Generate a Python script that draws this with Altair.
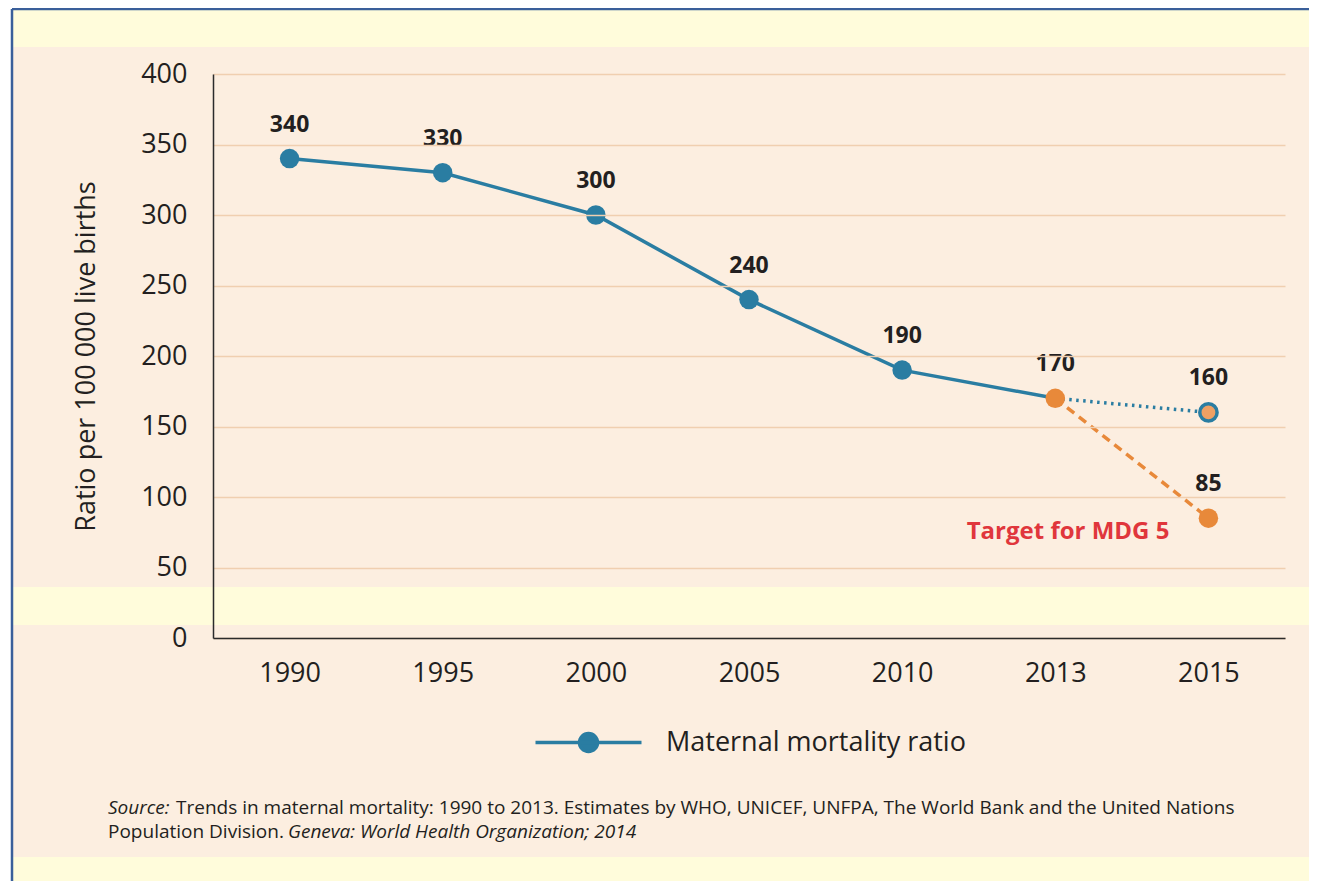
import altair as alt
import pandas as pd

# ---------------- data ----------------
years = ["1990", "1995", "2000", "2005", "2010", "2013", "2015"]
mmr = [340, 330, 300, 240, 190, 170, 160]
target_years = ["2013", "2015"]
target_values = [170, 85]
y_ticks = [0, 50, 100, 150, 200, 250, 300, 350, 400]
series_name = "Maternal mortality ratio"
target_label = "Target for MDG 5"
target_label_pos = ["2015", 75]
y_title = "Ratio per 100 000 live births"
src_l1_a = "Source:"
src_l1_b = "Trends in maternal mortality: 1990 to 2013. Estimates by WHO, UNICEF, UNFPA, The World Bank and the United Nations"
src_l2_a = "Population Division."
src_l2_b = "Geneva: World Health Organization; 2014"

# ---------------- styles ----------------
TEAL = "#2A7DA2"
ORANGE = "#E8893A"
ORANGE_LIGHT = "#EEA064"
RED = "#E0363C"
TXT = "#231F20"
YELLOW = "#FFFCDB"
PEACH = "#FCEEE0"
GRID = "#F0CFB0"
BORDER = "#3A5F9A"
FONT = "Open Sans"

W, H = 1072, 564

df_obs = pd.DataFrame({"year": years[:6], "value": mmr[:6], "series": series_name})
df_proj = pd.DataFrame({"year": years[5:], "value": mmr[5:]})
df_target = pd.DataFrame({"year": target_years, "value": target_values})
df_teal_pts = pd.DataFrame({"year": years[:5], "value": mmr[:5], "series": series_name})
df_ring = pd.DataFrame({"year": years[6:], "value": mmr[6:]})
df_labels = pd.DataFrame({"year": years + target_years[1:], "value": mmr + target_values[1:]})
df_tgt_txt = pd.DataFrame({"year": [target_label_pos[0]], "value": [target_label_pos[1]], "t": [target_label]})
one = pd.DataFrame({"a": [0]})

x_enc = alt.X(
    "year:O",
    scale=alt.Scale(domain=years),
    axis=alt.Axis(
        title=None, labelAngle=0, ticks=False, grid=False, zindex=1,
        domainColor="#2b2b2b", domainWidth=1.5,
        labelFont=FONT, labelFontSize=27, labelColor=TXT, labelPadding=22,
    ),
)
y_enc = alt.Y(
    "value:Q",
    scale=alt.Scale(domain=[0, 400], nice=False, zero=True),
    axis=alt.Axis(
        values=y_ticks, title=y_title, ticks=False, zindex=1,
        grid=True, gridColor=GRID, gridWidth=1.5,
        domainColor="#2b2b2b", domainWidth=1.5,
        labelFont=FONT, labelFontSize=27, labelColor=TXT, labelPadding=26,
        titleFont=FONT, titleFontSize=27, titleFontWeight="normal", titleColor=TXT,
        titlePadding=40,
    ),
)

# ---------------- background decoration ----------------
def band(x1, x2, y1, y2, color):
    return alt.Chart(one).mark_rect(color=color).encode(
        x=alt.value(x1), x2=alt.value(x2), y=alt.value(y1), y2=alt.value(y2)
    )

bg = (
    band(-201, 1096, -27, 513, PEACH)
    + band(-201, 1096, 551, 783, PEACH)
    + band(-205, -201, -66, 807, "#FFFFFF")
)
border_top = alt.Chart(one).mark_rule(color=BORDER, strokeWidth=2.5).encode(
    x=alt.value(-201), x2=alt.value(1096), y=alt.value(-65)
)
border_left = alt.Chart(one).mark_rule(color=BORDER, strokeWidth=2.5).encode(
    x=alt.value(-201), y=alt.value(-65), y2=alt.value(807)
)

# ---------------- data marks ----------------
line_obs = alt.Chart(df_obs).mark_line(color=TEAL, strokeWidth=3.5).encode(x=x_enc, y=y_enc)
line_proj = alt.Chart(df_proj).mark_line(color=TEAL, strokeWidth=3.5, strokeDash=[2.5, 4.5]).encode(x=x_enc, y=y_enc)
line_target = alt.Chart(df_target).mark_line(color=ORANGE, strokeWidth=3.5, strokeDash=[9, 6]).encode(x=x_enc, y=y_enc)

legend_path = "M-5.3,0H5.3M-0.9,0A0.9,0.9 0 1,1 0.9,0A0.9,0.9 0 1,1 -0.9,0Z"
pts_teal = alt.Chart(df_teal_pts).mark_circle(size=380, opacity=1).encode(
    x=x_enc, y=y_enc,
    color=alt.Color(
        "series:N",
        scale=alt.Scale(domain=[series_name], range=[TEAL]),
        legend=alt.Legend(
            title=None, orient="none", legendX=362, legendY=655,
            symbolType=legend_path, symbolSize=400, symbolStrokeWidth=3.5,
            symbolStrokeColor=TEAL, symbolFillColor=TEAL, symbolOpacity=1,
            labelFont=FONT, labelFontSize=27, labelColor=TXT, labelOffset=64,
            labelLimit=600, padding=0,
        ),
    ),
)
pts_orange = alt.Chart(df_target).mark_circle(size=380, opacity=1, color=ORANGE).encode(x=x_enc, y=y_enc)
pt_ring = alt.Chart(df_ring).mark_point(
    size=300, filled=True, fill=ORANGE_LIGHT, stroke=TEAL, strokeWidth=3.5, opacity=1
).encode(x=x_enc, y=y_enc)

labels = alt.Chart(df_labels).mark_text(
    font=FONT, fontSize=23, fontWeight="bold", color=TXT, baseline="middle", dy=-34
).encode(x=x_enc, y=y_enc, text=alt.Text("value:Q"))

tgt_text = alt.Chart(df_tgt_txt).mark_text(
    font=FONT, fontSize=24, fontWeight="bold", color=RED, align="right", baseline="middle", dx=-39
).encode(x=x_enc, y=y_enc, text="t:N")

# ---------------- source note ----------------
def note(txt, x, y, italic):
    return alt.Chart(pd.DataFrame({"t": [txt]})).mark_text(
        font=FONT, fontSize=19, color=TXT, align="left", baseline="middle",
        fontStyle="italic" if italic else "normal",
    ).encode(x=alt.value(x), y=alt.value(y), text="t:N")

src = (
    note(src_l1_a, -105, 734, True)
    + note(src_l1_b, -37, 734, False)
    + note(src_l2_a, -105, 758, False)
    + note(src_l2_b, 75, 758, True)
)

chart = alt.layer(
    bg, border_top, border_left,
    line_obs, line_proj, line_target,
    pts_teal, pts_orange, pt_ring,
    labels, tgt_text, src,
).properties(
    width=W, height=H,
    background=YELLOW,
    autosize=alt.AutoSizeParams(type="none"),
    padding={"left": 205, "top": 66, "right": 24, "bottom": 243},
).configure_view(strokeWidth=0)

chart.save("out.html", embed_options={"renderer": "svg", "actions": False})
